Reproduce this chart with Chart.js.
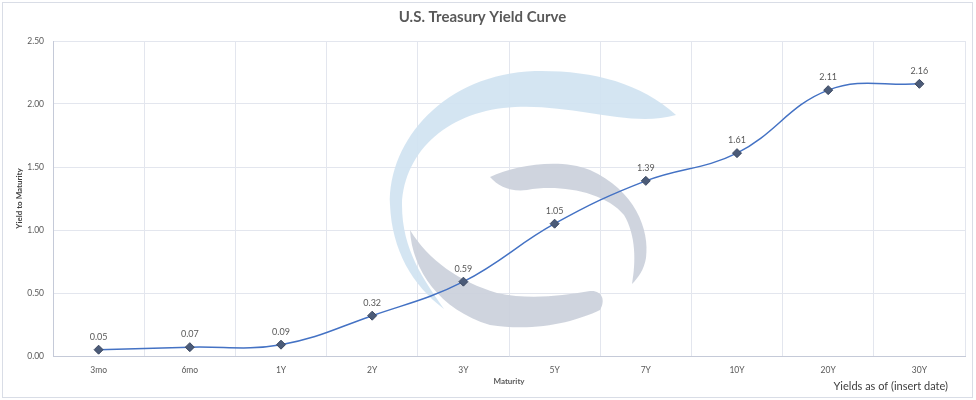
<!DOCTYPE html>
<html lang="en">
<head>
    <meta charset="UTF-8">
    <title>U.S. Treasury Yield Curve</title>
    <script src="https://cdn.jsdelivr.net/npm/chart.js"></script>
    <style>
        body { margin: 0; background: #fff; }
        #wrap { width: 976px; height: 400px; position: relative; }
    </style>
</head>
<body>
<div id="wrap"><canvas id="yieldChart"></canvas></div>

<script>
    const maturities = ['3mo', '6mo', '1Y', '2Y', '3Y', '5Y', '7Y', '10Y', '20Y', '30Y'];
    const yields = [0.05, 0.07, 0.09, 0.32, 0.59, 1.05, 1.39, 1.61, 2.11, 2.16];
    const yTicks = [0, 0.5, 1, 1.5, 2, 2.5];

    const FONT = 'Lato, "Open Sans", sans-serif';
    const TEXT = '#595959';

    // light logo swoosh behind the line, plus the outer frame
    const backdrop = {
        id: 'backdrop',
        beforeDatasetsDraw(chart) {
            const ctx = chart.ctx;
            ctx.save();
            ctx.globalAlpha = 0.9;

            ctx.fillStyle = '#cfe2f1';
            ctx.beginPath();
            ctx.moveTo(676, 115);
            ctx.bezierCurveTo(640, 82, 590, 70, 535, 71);
            ctx.bezierCurveTo(445, 74, 388, 140, 390, 205);
            ctx.bezierCurveTo(392, 250, 412, 285, 444, 309);
            ctx.bezierCurveTo(424, 280, 402, 250, 402, 205);
            ctx.bezierCurveTo(404, 150, 450, 110, 515, 107);
            ctx.bezierCurveTo(575, 104, 630, 128, 676, 115);
            ctx.closePath();
            ctx.fill();

            ctx.fillStyle = '#cacfda';
            ctx.beginPath();
            ctx.moveTo(490, 177);
            ctx.bezierCurveTo(515, 165, 560, 158, 590, 170);
            ctx.bezierCurveTo(635, 190, 650, 230, 646, 258);
            ctx.bezierCurveTo(644, 270, 638, 278, 632, 284);
            ctx.bezierCurveTo(636, 262, 636, 235, 624, 215);
            ctx.bezierCurveTo(605, 192, 560, 184, 527, 190);
            ctx.bezierCurveTo(510, 192, 498, 186, 490, 177);
            ctx.closePath();
            ctx.fill();

            ctx.beginPath();
            ctx.moveTo(410, 230);
            ctx.bezierCurveTo(412, 270, 440, 310, 490, 325);
            ctx.bezierCurveTo(535, 332, 575, 322, 600, 310);
            ctx.bezierCurveTo(606, 300, 602, 290, 590, 291);
            ctx.bezierCurveTo(560, 296, 530, 300, 497, 293);
            ctx.bezierCurveTo(460, 282, 428, 260, 410, 230);
            ctx.closePath();
            ctx.fill();

            ctx.restore();
        },
        afterDraw(chart) {
            const ctx = chart.ctx;
            ctx.save();
            ctx.strokeStyle = '#d9dde6';
            ctx.lineWidth = 1;
            ctx.strokeRect(2.5, 2.5, 970, 395);

            ctx.fillStyle = '#404040';
            ctx.font = '11px ' + FONT;
            ctx.textAlign = 'right';
            ctx.textBaseline = 'middle';
            ctx.fillText('Yields as of (insert date)', 948, 386);
            ctx.restore();
        }
    };

    // value labels above each point
    const pointLabels = {
        id: 'pointLabels',
        afterDatasetsDraw(chart) {
            const ctx = chart.ctx;
            const meta = chart.getDatasetMeta(0);
            ctx.save();
            ctx.fillStyle = TEXT;
            ctx.font = '9px ' + FONT;
            ctx.textAlign = 'center';
            ctx.textBaseline = 'middle';
            meta.data.forEach((pt, i) => {
                ctx.fillText(yields[i].toFixed(2), pt.x, pt.y - 13);
            });
            ctx.restore();
        }
    };

    new Chart(document.getElementById('yieldChart'), {
        type: 'line',
        data: {
            labels: maturities,
            datasets: [{
                label: 'Yield',
                data: yields,
                borderColor: '#4472c4',
                borderWidth: 1.5,
                tension: 0.4,
                pointStyle: 'rectRot',
                pointRadius: 4.5,
                pointBackgroundColor: '#4b5b78',
                pointBorderColor: '#3c4860',
                pointBorderWidth: 1
            }]
        },
        options: {
            responsive: true,
            maintainAspectRatio: false,
            animation: false,
            layout: { padding: { left: 0, right: 11, top: 0, bottom: 0 } },
            plugins: {
                legend: { display: false },
                tooltip: { enabled: false },
                title: {
                    display: true,
                    text: 'U.S. Treasury Yield Curve',
                    color: TEXT,
                    font: { family: FONT, size: 15, weight: 'bold', lineHeight: 1.2 },
                    padding: { top: 8, bottom: 15 }
                }
            },
            scales: {
                x: {
                    offset: true,
                    grid: { offset: true, color: '#e3e6ee', drawTicks: false },
                    border: { color: '#c5cad8' },
                    ticks: { color: TEXT, font: { family: FONT, size: 8.5 }, padding: 9 },
                    title: {
                        display: true,
                        text: 'Maturity',
                        color: TEXT,
                        font: { family: FONT, size: 8, weight: 'bold' },
                        padding: { top: 0, bottom: 14 }
                    },
                    afterFit(scale) { scale.height = 44; }
                },
                y: {
                    min: 0,
                    max: 2.5,
                    afterBuildTicks(scale) { scale.ticks = yTicks.map(v => ({ value: v })); },
                    grid: { color: '#e3e6ee', drawTicks: false },
                    border: { color: '#c5cad8' },
                    ticks: {
                        color: TEXT,
                        font: { family: FONT, size: 8.5 },
                        padding: 9,
                        callback: v => v.toFixed(2)
                    },
                    title: {
                        display: true,
                        text: 'Yield to Maturity',
                        color: '#404040',
                        font: { family: FONT, size: 8, weight: 'bold' },
                        padding: { top: 15, bottom: 0 }
                    },
                    afterFit(scale) { scale.width = 53; }
                }
            }
        },
        plugins: [backdrop, pointLabels]
    });
</script>
</body>
</html>
